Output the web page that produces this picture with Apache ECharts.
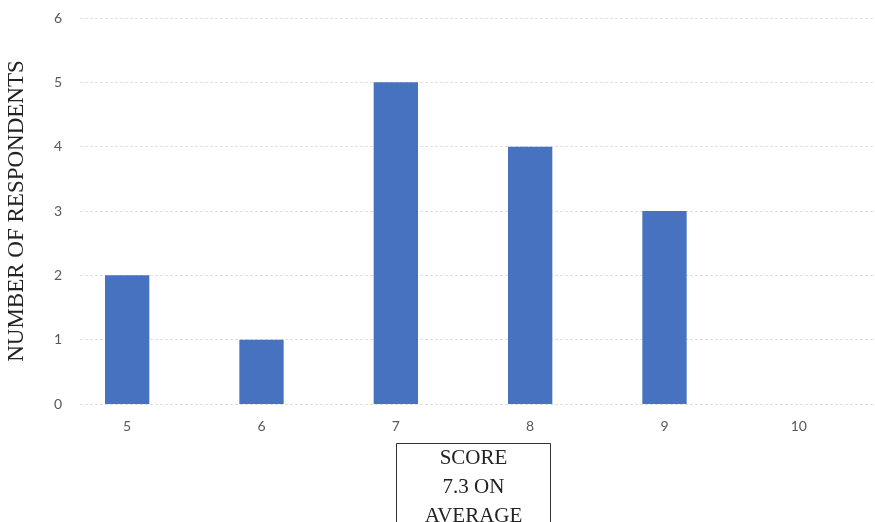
<!DOCTYPE html>
<html>
<head>
<meta charset="utf-8">
<script src="https://cdn.jsdelivr.net/npm/echarts@6/dist/echarts.min.js"></script>
<style>
  html, body { margin: 0; padding: 0; background: #fff; }
  #chart { width: 875px; height: 522px; }
</style>
</head>
<body>
<div id="chart"></div>
<script>
// Score distribution of respondents
const scores = ['5', '6', '7', '8', '9', '10'];
const respondents = [2, 1, 5, 4, 3, 0];
const yTicks = { min: 0, max: 6, interval: 1 };
const yTitle = 'NUMBER OF RESPONDENTS';
const xTitleLines = ['SCORE', '7.3 ON', 'AVERAGE'];

const chart = echarts.init(document.getElementById('chart'));

const tickFont = { color: '#595959', fontSize: 14, fontFamily: 'Lato, "Open Sans", sans-serif' };
const gridLine = { show: true, lineStyle: { color: '#e0e0e0', type: [3, 2], width: 1 } };
const serif = '"Liberation Serif", "DejaVu Serif", serif';

chart.setOption({
  animation: false,
  grid: [
    // bars and category labels
    { left: 60, right: 9, top: 18, bottom: 118, outerBoundsMode: 'none' },
    // value scale and gridlines
    { left: 80, right: 0, top: 18, bottom: 118, outerBoundsMode: 'none' }
  ],
  xAxis: [
    {
      gridIndex: 0,
      type: 'category',
      data: scores,
      axisLine: { show: false },
      axisTick: { show: false },
      axisLabel: Object.assign({ margin: 15 }, tickFont)
    },
    {
      gridIndex: 1,
      type: 'value',
      min: 0, max: 1,
      show: false
    }
  ],
  yAxis: [
    {
      gridIndex: 0,
      type: 'value',
      min: yTicks.min, max: yTicks.max, interval: yTicks.interval,
      show: false
    },
    {
      gridIndex: 1,
      type: 'value',
      min: yTicks.min, max: yTicks.max, interval: yTicks.interval,
      axisLine: { show: false },
      axisTick: { show: false },
      splitLine: gridLine,
      axisLabel: Object.assign({ margin: 18 }, tickFont),
      name: yTitle,
      nameLocation: 'middle',
      nameRotate: 90,
      nameGap: 52,
      nameTextStyle: { fontFamily: serif, fontSize: 23, color: '#222' }
    }
  ],
  series: [
    {
      type: 'bar',
      xAxisIndex: 0,
      yAxisIndex: 0,
      data: respondents,
      barWidth: '33%',
      itemStyle: { color: '#4672c0' }
    }
  ],
  graphic: [
    {
      type: 'group',
      left: 396,
      top: 443,
      children: [
        {
          type: 'rect',
          shape: { x: 0, y: 0, width: 154, height: 100 },
          style: { fill: '#fff', stroke: '#333', lineWidth: 1 }
        },
        {
          type: 'text',
          x: 77,
          y: 0,
          style: {
            text: xTitleLines.join('\n'),
            align: 'center',
            verticalAlign: 'top',
            fontFamily: serif,
            fontSize: 21,
            lineHeight: 29,
            fill: '#222'
          }
        }
      ]
    }
  ]
});
</script>
</body>
</html>
